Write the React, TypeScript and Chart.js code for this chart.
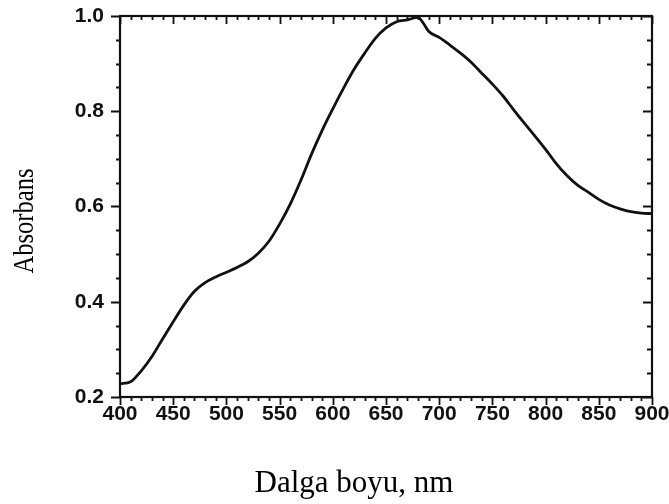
import React, { useEffect, useRef } from "react";
import { Chart, registerables } from "chart.js";

Chart.register(...registerables);

const wavelengths = [400, 410, 420, 430, 440, 450, 460, 470, 480, 490, 500, 510, 520, 530, 540, 550, 560, 570, 580, 590, 600, 610, 620, 630, 640, 650, 660, 670, 680, 685, 690, 700, 710, 720, 730, 740, 750, 760, 770, 780, 790, 800, 810, 820, 830, 840, 850, 860, 870, 880, 890, 900];
const absorbance = [0.228, 0.232, 0.255, 0.285, 0.322, 0.358, 0.393, 0.422, 0.44, 0.452, 0.462, 0.472, 0.484, 0.502, 0.527, 0.563, 0.605, 0.655, 0.71, 0.76, 0.805, 0.848, 0.888, 0.922, 0.953, 0.975, 0.988, 0.992, 0.997, 0.985, 0.968, 0.955, 0.939, 0.922, 0.903, 0.88, 0.857, 0.832, 0.803, 0.775, 0.748, 0.72, 0.69, 0.665, 0.645, 0.63, 0.615, 0.603, 0.595, 0.589, 0.586, 0.585];
const xRange = [400, 900];
const yRange = [0.2, 1.0];
const xTitle = "Dalga boyu, nm";
const yTitle = "Absorbans";

const framePlugin = {
  id: "frameTicks",
  afterDraw(chart: any) {
    const ctx = chart.ctx;
    const xs = chart.scales.x;
    const ys = chart.scales.y;
    const { left, right, top, bottom } = chart.chartArea;
    ctx.save();
    ctx.strokeStyle = "#111";
    ctx.lineWidth = 2.2;
    ctx.strokeRect(left, top, right - left, bottom - top);
    ctx.lineWidth = 1.8;
    ctx.beginPath();
    for (let v = xRange[0]; v <= xRange[1] + 0.001; v += 10) {
      const px = Math.round(xs.getPixelForValue(v)) + 0.5;
      const major = Math.abs(v % 50) < 0.001;
      const lb = major ? 8 : 4;
      const lt = major ? 8 : 4;
      ctx.moveTo(px, bottom);
      ctx.lineTo(px, bottom + lb);
      ctx.moveTo(px, top);
      ctx.lineTo(px, top + lt);
    }
    for (let i = 0; i <= 16; i++) {
      const v = yRange[0] + i * 0.05;
      const py = Math.round(ys.getPixelForValue(v)) + 0.5;
      const major = i % 4 === 0;
      ctx.moveTo(left, py);
      ctx.lineTo(left - (major ? 9 : 4), py);
      ctx.moveTo(right, py);
      ctx.lineTo(right - (major ? 9 : 5), py);
    }
    ctx.stroke();

    ctx.fillStyle = "#000";
    ctx.font = '31px "Liberation Serif"';
    ctx.textAlign = "center";
    ctx.textBaseline = "alphabetic";
    ctx.fillText(xTitle, 354, 492);

    ctx.save();
    ctx.translate(33, 221);
    ctx.rotate(-Math.PI / 2);
    ctx.scale(0.82, 1);
    ctx.font = '30px "Liberation Serif"';
    ctx.textAlign = "center";
    ctx.textBaseline = "alphabetic";
    ctx.fillText(yTitle, 0, 0);
    ctx.restore();
    ctx.restore();
  },
};

export default function App() {
  const ref = useRef<HTMLCanvasElement | null>(null);
  useEffect(() => {
    if (!ref.current) return;
    const chart = new Chart(ref.current, {
      type: "line",
      data: {
        datasets: [
          {
            data: wavelengths.map((w, i) => ({ x: w, y: absorbance[i] })),
            borderColor: "#111",
            borderWidth: 2.8,
            pointRadius: 0,
            tension: 0.4,
            cubicInterpolationMode: "monotone",
            fill: false,
          },
        ],
      },
      options: {
        responsive: false,
        animation: false,
        layout: { padding: { left: 0, top: 16, right: 17, bottom: 0 } },
        plugins: { legend: { display: false }, tooltip: { enabled: false } },
        scales: {
          x: {
            type: "linear",
            min: xRange[0],
            max: xRange[1],
            grid: { display: false, drawTicks: false },
            border: { display: false },
            ticks: {
              stepSize: 50,
              padding: 5,
              color: "#111",
              font: { family: '"Liberation Sans"', size: 21, weight: "bold" },
              maxRotation: 0,
            },
            afterFit: (s: any) => {
              s.height = 107;
              s.paddingLeft = 0;
              s.paddingRight = 0;
            },
          },
          y: {
            type: "linear",
            min: yRange[0],
            max: yRange[1],
            grid: { display: false, drawTicks: false },
            border: { display: false },
            ticks: {
              stepSize: 0.2,
              padding: 16,
              color: "#111",
              font: { family: '"Liberation Sans"', size: 21, weight: "bold" },
              callback: (v: any) => Number(v).toFixed(1),
            },
            afterFit: (s: any) => {
              s.width = 120;
              s.paddingTop = 0;
              s.paddingBottom = 0;
            },
          },
        },
      },
      plugins: [framePlugin],
    });
    return () => chart.destroy();
  }, []);
  return (
    <div style={{ position: "fixed", left: 0, top: 0, width: 669, height: 504, background: "#fff" }}>
      <canvas ref={ref} width={669} height={504} />
    </div>
  );
}
